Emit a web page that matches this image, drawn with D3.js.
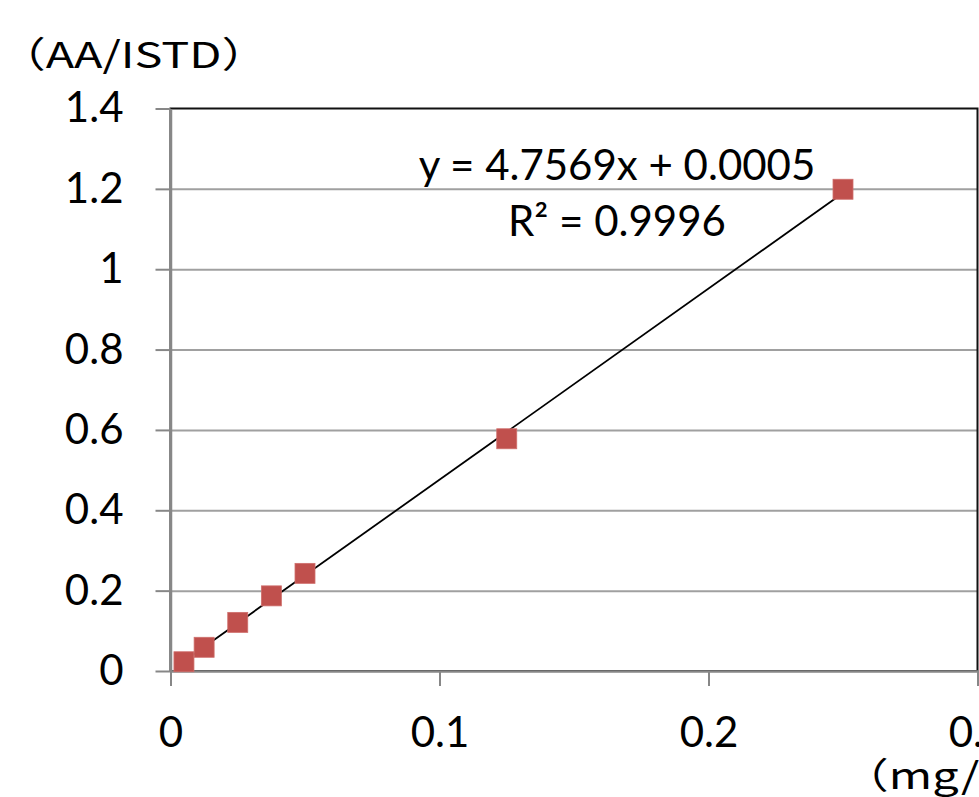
<!DOCTYPE html>
<html>
<head>
  <meta charset="utf-8">
  <title>Calibration curve</title>
  <style>
    body { margin: 0; background: #fff; overflow: hidden; }
    svg { display: block; }
    .num { font-family: Lato, "Open Sans", sans-serif; font-size: 42px; fill: #000; }
    .jp { font-family: "Noto Sans CJK JP", sans-serif; font-size: 36px; fill: #000; }
  </style>
</head>
<body>
  <script src="https://d3js.org/d3.v7.min.js"></script>
  <script>
    // concentration (mg/L) and area ratio AA/ISTD
    const conc = [0.005, 0.0125, 0.025, 0.0375, 0.05, 0.125, 0.25];
    const ratio = [0.023, 0.059, 0.121, 0.187, 0.243, 0.578, 1.199];
    const slope = 4.7569, intercept = 0.0005;
    const xTicks = [0, 0.1, 0.2, 0.3];
    const yTicks = [0, 0.2, 0.4, 0.6, 0.8, 1, 1.2, 1.4];

    const W = 979, H = 797;
    const x = d3.scaleLinear().domain([0, 0.3]).range([170.5, 977.5]);
    const y = d3.scaleLinear().domain([0, 1.4]).range([671, 108.5]);

    const svg = d3.select("body").append("svg").attr("width", W).attr("height", H);

    // horizontal gridlines
    svg.append("g")
      .attr("transform", `translate(${x(0)},0)`)
      .call(d3.axisLeft(y).tickValues(yTicks.slice(1, -1)).tickSize(-(x(0.3) - x(0))).tickFormat(""))
      .call(g => g.select(".domain").remove())
      .call(g => g.selectAll("line").attr("stroke", "#a0a0a0").attr("stroke-width", 2));

    // plot area border (top and right visible)
    svg.append("rect")
      .attr("x", x(0)).attr("y", y(1.4))
      .attr("width", x(0.3) - x(0)).attr("height", y(0) - y(1.4))
      .attr("fill", "none").attr("stroke", "#111").attr("stroke-width", 2);

    // y axis
    svg.append("g")
      .attr("transform", `translate(${x(0)},0)`)
      .call(d3.axisLeft(y).tickValues(yTicks).tickSize(15).tickPadding(32).tickSizeOuter(0)
        .tickFormat(d => d3.format("")(+d.toFixed(1))))
      .call(g => g.select(".domain").attr("stroke", "#878787").attr("stroke-width", 2.5))
      .call(g => g.selectAll("line").attr("stroke", "#878787").attr("stroke-width", 2))
      .call(g => g.selectAll("text").attr("class", "num").attr("font-family", null).attr("font-size", null));

    // x axis
    svg.append("g")
      .attr("transform", `translate(0,${y(0)})`)
      .call(d3.axisBottom(x).tickValues(xTicks).tickSize(15).tickSizeOuter(0)
        .tickFormat(d => d3.format("")(+d.toFixed(1))))
      .call(g => g.select(".domain").attr("stroke", "#878787").attr("stroke-width", 2.5))
      .call(g => g.selectAll("line").attr("stroke", "#878787").attr("stroke-width", 2))
      .call(g => g.selectAll("text").attr("class", "num").attr("font-family", null).attr("font-size", null)
        .attr("dy", null).attr("y", 76));

    // trendline over data range
    const xr = d3.extent(conc);
    svg.append("line")
      .attr("x1", x(xr[0])).attr("y1", y(slope * xr[0] + intercept))
      .attr("x2", x(xr[1])).attr("y2", y(slope * xr[1] + intercept))
      .attr("stroke", "#000").attr("stroke-width", 1.8);

    // markers
    svg.append("g").selectAll("rect")
      .data(conc)
      .join("rect")
      .attr("x", (d) => x(d) - 10)
      .attr("y", (d, i) => y(ratio[i]) - 10)
      .attr("width", 20).attr("height", 20)
      .attr("fill", "#c0504d").attr("stroke", "#cf6f6c").attr("stroke-width", 0.8);

    // equation labels
    svg.append("text").attr("class", "num").attr("x", 617).attr("y", 180)
      .attr("text-anchor", "middle").text("y = 4.7569x + 0.0005");
    svg.append("text").attr("class", "num").attr("x", 617).attr("y", 236)
      .attr("text-anchor", "middle").text("R² = 0.9996");

    // axis titles (wide MS-Gothic-like look)
    svg.append("text").attr("class", "jp").attr("transform", "translate(-1,68) scale(1.3,1)").text("（AA/ISTD）");
    svg.append("text").attr("class", "jp").attr("transform", "translate(842,789) scale(1.3,1)").text("（mg/L）");
  </script>
</body>
</html>
